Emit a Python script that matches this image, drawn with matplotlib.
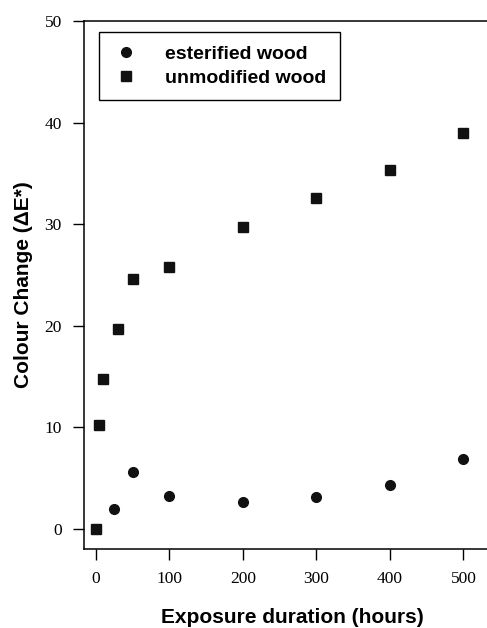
import matplotlib.pyplot as plt

# Colour change during exposure
hours_ester = [0, 25, 50, 100, 200, 300, 400, 500]
dE_ester = [0.0, 1.9, 5.6, 3.2, 2.6, 3.1, 4.3, 6.9]

hours_unmod = [0, 5, 10, 30, 50, 100, 200, 300, 400, 500]
dE_unmod = [0.0, 10.2, 14.7, 19.7, 24.6, 25.8, 29.7, 32.6, 35.3, 39.0]

xticks = [0, 100, 200, 300, 400, 500]
yticks = [0, 10, 20, 30, 40, 50]

fig = plt.figure(figsize=(4.87, 6.28), dpi=100)
ax = fig.add_axes([84 / 487, 1 - 549 / 628, 1 - 84 / 487, (549 - 21) / 628])

ax.plot(hours_ester, dE_ester, 'o', color='#111111', markersize=7, label='esterified wood')
ax.plot(hours_unmod, dE_unmod, 's', color='#111111', markersize=6.5, label='unmodified wood')

ax.set_xlim(-16, 532)
ax.set_ylim(-2, 50)
ax.set_xticks(xticks)
ax.set_yticks(yticks)

ax.spines['right'].set_visible(False)
for s in ['left', 'bottom', 'top']:
    ax.spines[s].set_linewidth(1.1)
ax.tick_params(direction='out', length=8, width=1, labelsize=12.5, pad=8)
for lab in ax.get_xticklabels() + ax.get_yticklabels():
    lab.set_family('Liberation Serif')

ax.set_xlabel('Exposure duration (hours)', family='Liberation Sans', fontweight='bold',
              fontsize=15, labelpad=15)
ax.xaxis.label.set_x(0.517)
ax.set_ylabel('Colour Change (\u0394E*)', family='Liberation Sans', fontweight='bold',
              fontsize=15, labelpad=8)

leg = ax.legend(loc='upper left', bbox_to_anchor=(99 / 487, 1 - 32 / 628),
                bbox_transform=fig.transFigure, borderaxespad=0, fancybox=False,
                frameon=True, edgecolor='black', framealpha=1,
                prop={'family': 'Liberation Sans', 'weight': 'bold', 'size': 14},
                handletextpad=1.3, borderpad=0.7, labelspacing=0.3, handlelength=1.4)
leg.get_frame().set_linewidth(1)

fig.savefig('out.png', dpi=100)
